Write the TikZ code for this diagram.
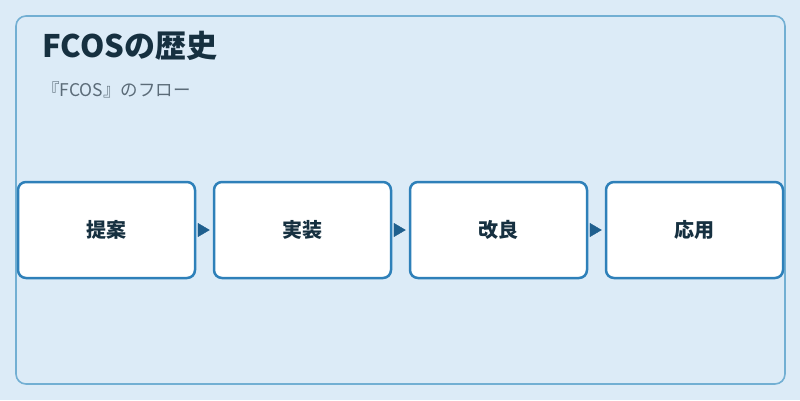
\documentclass[tikz,border=0pt]{standalone}
\usepackage{fontspec}
\setmainfont{Noto Sans CJK JP}
\usetikzlibrary{arrows.meta,shapes,calc}

\definecolor{bgblue}{HTML}{DCEBF7}
\definecolor{framecol}{HTML}{72AFD3}
\definecolor{boxcol}{HTML}{2E80B9}
\definecolor{arrowcol}{HTML}{1F5F8E}
\definecolor{titlecol}{HTML}{163040}
\definecolor{subcol}{HTML}{5B6B78}

\begin{document}
\begin{tikzpicture}[x=1pt, y=1pt,
		stage/.style={rectangle, rounded corners=8pt, fill=white, draw=boxcol, line width=2.5pt,
			minimum width=177pt, minimum height=96pt, text=titlecol, font=\bfseries\fontsize{20pt}{23pt}\selectfont},
		flow/.style={-{Triangle[length=12pt,width=14pt]}, draw=arrowcol, fill=arrowcol, shorten <=2pt, shorten >=3pt}]
		\useasboundingbox (0, 0) rectangle (800, 400);
		\fill[bgblue] (0, 0) rectangle (800, 400);
		\draw[framecol, line width=1.6pt, rounded corners=10pt] (16, 16) rectangle (785, 384);

		\path (39, 343) node[anchor=base west, text=titlecol, font=\bfseries\fontsize{31pt}{35pt}\selectfont] (title) {FCOSの歴史}
  		(38.5, 304) node[anchor=base west, text=subcol, font=\fontsize{17.5pt}{21pt}\selectfont] (sub) {『FCOS』のフロー}
  		(106.5, 170) node[stage] (propose) {提案}
  		(302.5, 170) node[stage] (implement) {実装}
  		(498.5, 170) node[stage] (improve) {改良}
  		(694.5, 170) node[stage] (apply) {応用};

		\draw[flow] (propose) -- (implement);
		\draw[flow] (implement) -- (improve);
		\draw[flow] (improve) -- (apply);
	\end{tikzpicture}
\end{document}
